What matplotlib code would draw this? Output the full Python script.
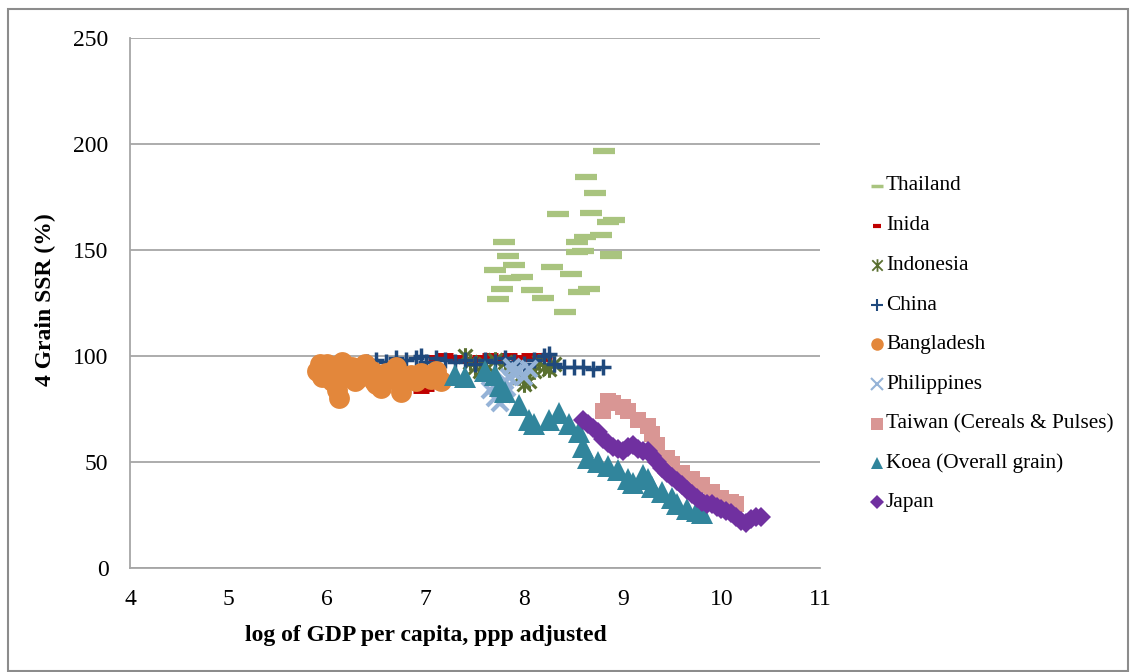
import matplotlib
matplotlib.use("Agg")
import matplotlib.pyplot as plt
from matplotlib.lines import Line2D
from matplotlib.patches import Rectangle
from matplotlib.path import Path

plt.rcParams['font.family'] = ['Liberation Serif', 'DejaVu Serif']

# ---------------- data ----------------
thailand_x = [8.81, 8.63, 8.72, 8.34, 8.68, 8.85, 8.91, 8.53, 8.62, 8.78, 7.79, 8.60, 8.53,
              8.88, 8.88, 7.83, 7.90, 8.28, 7.70, 7.86, 7.98, 8.47, 7.77, 8.08, 8.66, 8.55,
              7.73, 8.19, 8.41]
thailand_y = [196.7, 184.4, 176.9, 167.0, 167.5, 163.0, 164.0, 154.0, 156.0, 157.0, 154.0,
              149.5, 149.0, 148.0, 147.0, 147.0, 143.0, 142.0, 140.5, 137.0, 137.5, 138.7,
              131.6, 131.0, 131.6, 130.2, 127.0, 127.4, 120.8]

india_x = [6.50, 6.60, 6.70, 6.80, 6.90, 6.95, 7.00, 7.05, 7.10, 7.20, 7.30, 7.45, 7.55,
           7.65, 7.75, 7.85, 7.95, 8.05, 8.15, 8.20]
india_y = [88, 90, 87, 86, 88, 84, 85, 90, 99, 100, 99, 98, 99, 100, 99, 100, 99, 100, 100, 99]

indonesia_x = [7.40, 7.45, 7.50, 7.55, 7.60, 7.70, 7.80, 7.90, 7.95, 8.00, 8.05, 8.10,
               8.15, 8.20, 8.25, 8.30]
indonesia_y = [100, 97, 95, 93, 96, 98, 97, 95, 90, 87, 88, 93, 97, 95, 94, 96]

china_x = [6.40, 6.50, 6.60, 6.70, 6.80, 6.90, 6.95, 7.00, 7.10, 7.20, 7.30, 7.40, 7.50,
           7.60, 7.70, 7.80, 7.90, 8.00, 8.10, 8.20, 8.25, 8.30, 8.40, 8.50, 8.60, 8.70, 8.80]
china_y = [97, 98, 97, 99, 98, 99, 100, 97, 99, 98, 97, 98, 96, 98, 97, 99, 97, 96, 98, 100,
           101, 96, 95, 95, 95, 94, 95]

bangladesh_x = [5.90, 5.93, 5.95, 6.00, 6.02, 6.05, 6.08, 6.10, 6.12, 6.15, 6.18, 6.20,
                6.25, 6.28, 6.30, 6.35, 6.38, 6.40, 6.45, 6.48, 6.50, 6.55, 6.58, 6.60,
                6.65, 6.70, 6.72, 6.75, 6.80, 6.85, 6.90, 6.95, 7.00, 7.05, 7.10, 7.15]
bangladesh_y = [93, 96, 90, 96, 91, 88, 93, 84, 80, 97, 90, 92, 95, 88, 89, 94, 96, 91,
                93, 88, 87, 85, 91, 92, 90, 95, 88, 83, 89, 91, 88, 92, 90, 89, 93, 88]

philippines_x = [7.65, 7.70, 7.75, 7.72, 7.80, 7.85, 7.90, 7.95, 8.00, 8.05, 7.82, 7.88, 7.78]
philippines_y = [84, 80, 78, 86, 88, 90, 92, 93, 90, 94, 85, 95, 82]

taiwan_x = [8.80, 8.85, 8.90, 9.00, 9.05, 9.15, 9.25, 9.30, 9.35, 9.45, 9.50, 9.60, 9.70,
            9.80, 9.90, 10.00, 10.10, 10.15]
taiwan_y = [74, 79, 78, 76, 74, 70, 67, 63, 58, 52, 49, 45, 42, 39, 36, 33, 31, 30]

korea_x = [7.30, 7.40, 7.60, 7.70, 7.75, 7.80, 7.95, 8.05, 8.10, 8.25, 8.35, 8.45, 8.55,
           8.60, 8.65, 8.75, 8.85, 8.95, 9.05, 9.10, 9.20, 9.25, 9.30, 9.40, 9.50, 9.55,
           9.65, 9.75, 9.80]
korea_y = [91, 90, 93, 91, 86, 83, 77, 70, 68, 70, 73, 68, 64, 57, 52, 50, 48, 46, 42, 40,
           44, 42, 38, 36, 33, 30, 28, 27, 26]

japan_x = [8.60, 8.65, 8.70, 8.75, 8.80, 8.85, 8.90, 8.95, 9.00, 9.05, 9.10, 9.15, 9.20,
           9.25, 9.30, 9.35, 9.40, 9.45, 9.50, 9.55, 9.60, 9.65, 9.70, 9.75, 9.80, 9.85,
           9.90, 9.95, 10.00, 10.05, 10.10, 10.15, 10.20, 10.25, 10.30, 10.35, 10.40]
japan_y = [70, 68, 66, 64, 61, 59, 57, 56, 55, 57, 58, 56, 55, 55, 53, 50, 47, 45, 43, 41,
           39, 37, 35, 33, 31, 30, 30, 29, 28, 27, 26, 24, 22, 21, 23, 24, 24]

legend_labels = ["Thailand", "Inida", "Indonesia", "China", "Bangladesh", "Philippines",
                 "Taiwan (Cereals & Pulses)", "Koea (Overall grain)", "Japan"]
x_ticks = [4, 5, 6, 7, 8, 9, 10, 11]
y_ticks = [0, 50, 100, 150, 200, 250]

# star marker: x with a vertical line
star = Path([(-0.5, -0.5), (0.5, 0.5), (-0.5, 0.5), (0.5, -0.5), (0, -0.6), (0, 0.6)],
            [Path.MOVETO, Path.LINETO, Path.MOVETO, Path.LINETO, Path.MOVETO, Path.LINETO])

# ---------------- styles ----------------
styles = [
    dict(marker='_', color='#A9C47F', ms=16, mew=4.5),
    dict(marker='_', color='#C00000', ms=11, mew=5),
    dict(marker=star, color='#5A7030', ms=12, mew=2.2),
    dict(marker='+', color='#1F497D', ms=12, mew=2.5),
    dict(marker='o', color='#E3873B', ms=15, mew=0),
    dict(marker='x', color='#95B3D7', ms=12, mew=3),
    dict(marker='s', color='#D99694', ms=11, mew=0),
    dict(marker='^', color='#31859C', ms=16, mew=0),
    dict(marker='D', color='#7030A0', ms=10, mew=0),
]
series = [(thailand_x, thailand_y), (india_x, india_y), (indonesia_x, indonesia_y),
          (china_x, china_y), (bangladesh_x, bangladesh_y), (philippines_x, philippines_y),
          (taiwan_x, taiwan_y), (korea_x, korea_y), (japan_x, japan_y)]

W, H = 1131, 672
fig = plt.figure(figsize=(W / 100, H / 100), dpi=100)
ax = fig.add_axes([130 / W, (H - 568) / H, 690 / W, 530 / H])

for (xs, ys), st in zip(series, styles):
    ax.plot(xs, ys, linestyle='none', marker=st['marker'], color=st['color'],
            markersize=st['ms'], markeredgewidth=st['mew'],
            markerfacecolor=st['color'], markeredgecolor=st['color'])

ax.set_xlim(4, 11)
ax.set_ylim(0, 250)
ax.set_xticks(x_ticks)
ax.set_yticks(y_ticks)
ax.tick_params(axis='both', length=0, labelsize=17)
ax.tick_params(axis='y', pad=15.5)
ax.tick_params(axis='x', pad=15)
ax.grid(axis='y', color='#A6A6A6', linewidth=1.3)
ax.set_axisbelow(True)
for s in ['top', 'right']:
    ax.spines[s].set_visible(False)
for s in ['left', 'bottom']:
    ax.spines[s].set_color('#A6A6A6')
    ax.spines[s].set_linewidth(1.3)

fig.text(426 / W, 1 - 635 / H, "log of GDP per capita, ppp adjusted", ha='center',
         va='center', fontsize=17, fontweight='bold')
fig.text(45 / W, 1 - 300 / H, "4 Grain SSR (%)", ha='center', va='center', rotation=90,
         fontsize=17, fontweight='bold')

# legend (manual)
leg_y = [186, 226, 265, 305, 344, 384, 424, 463, 502]
leg_ms = [9, 6, 9, 9, 9, 9, 8, 8, 7]
leg_mew = [2.5, 3, 1.3, 1.5, 0, 1.5, 0, 0, 0]
for lab, yy, st, ms, mew in zip(legend_labels, leg_y, styles, leg_ms, leg_mew):
    fig.add_artist(Line2D([877 / W], [1 - yy / H], linestyle='none', marker=st['marker'],
                          color=st['color'], markersize=ms, markeredgewidth=mew,
                          markerfacecolor=st['color'], markeredgecolor=st['color']))
    fig.text(886 / W, 1 - yy / H, lab, ha='left', va='center', fontsize=15.3)

fig.add_artist(Rectangle((8 / W, 1 / H), 1120 / W, (H - 10) / H, transform=fig.transFigure,
                         fill=False, edgecolor='#8C8C8C', linewidth=1.5))

fig.savefig("out.png", dpi=100)
